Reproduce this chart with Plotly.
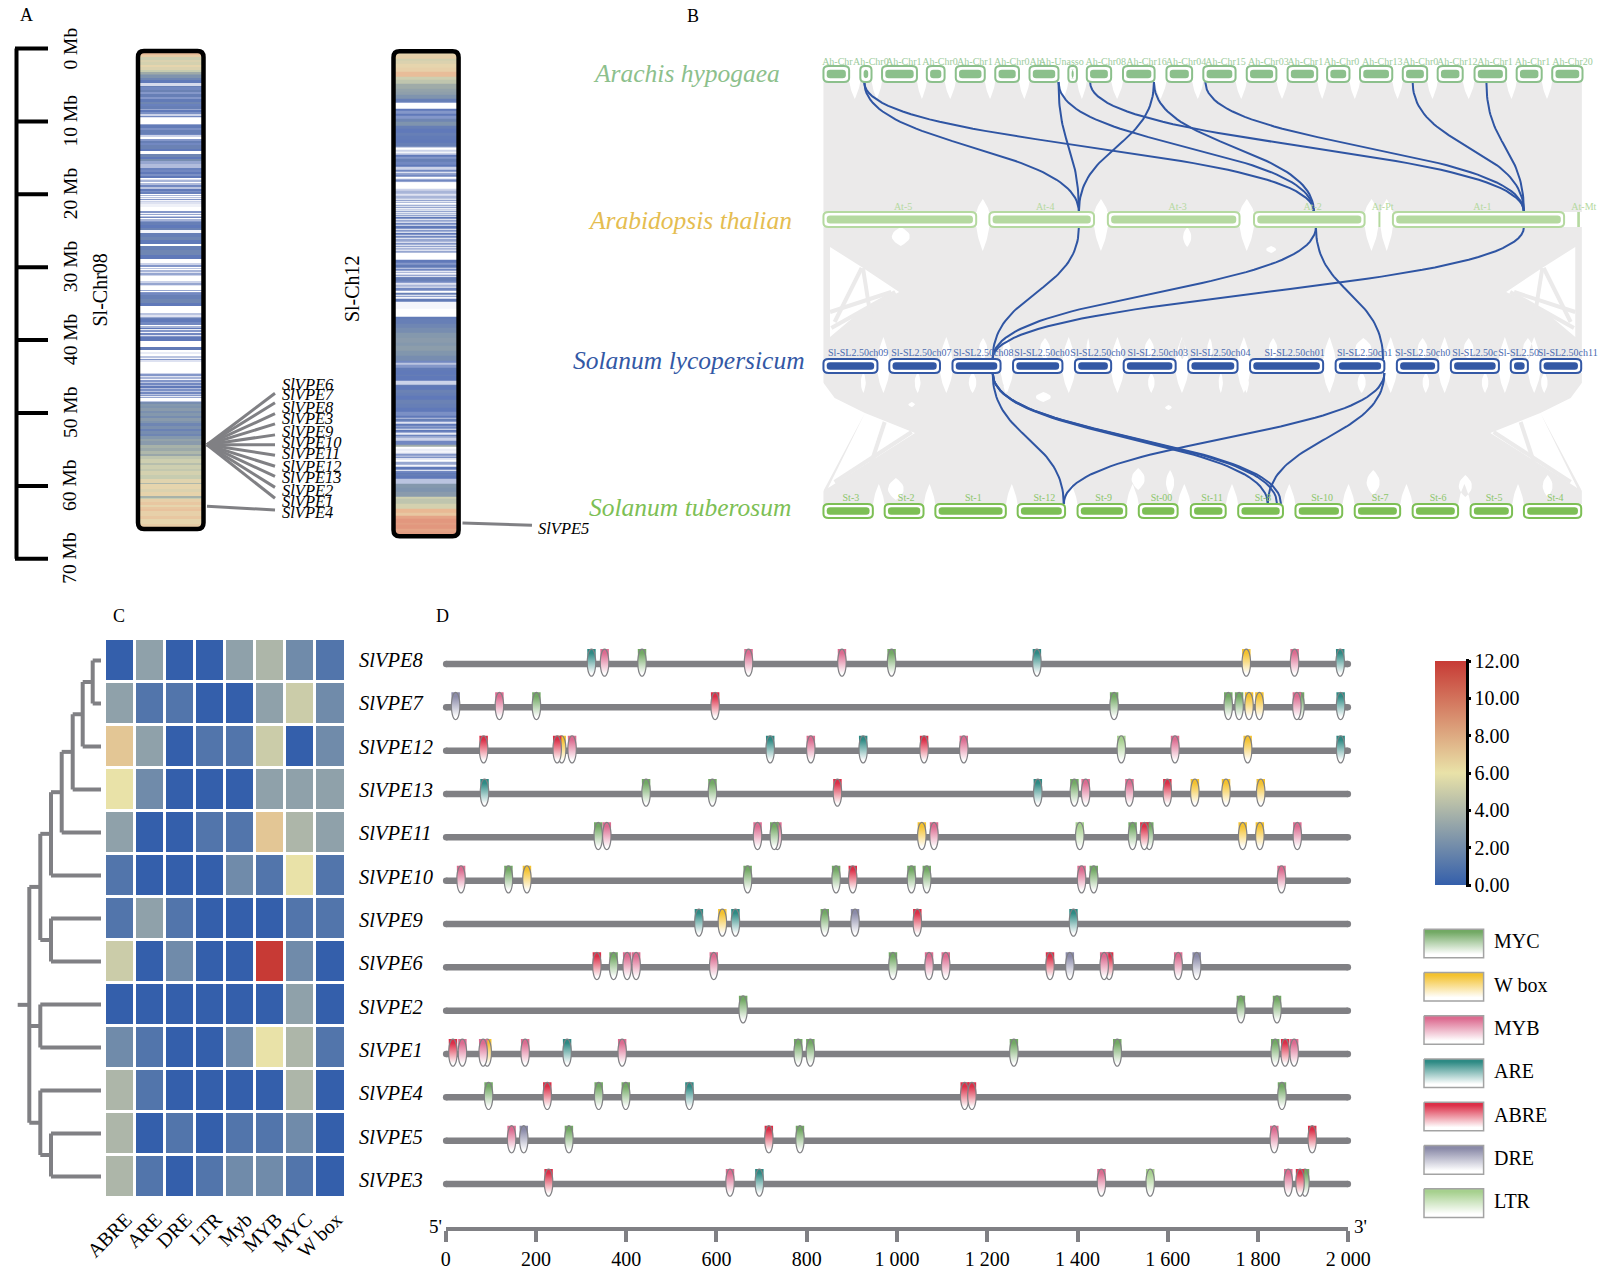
import math
import plotly.graph_objects as go

W, H = 1602, 1279
SERIF = "Liberation Serif, Times New Roman, serif"
GREY = "#808084"
RIBBON = "#ebeaea"
LINK = "#2f55a3"

# ---------- Panel A data ----------
ruler_mb = [0, 10, 20, 30, 40, 50, 60, 70]
chr08_len_mb = 65.2
chr12_len_mb = 66.3
chr08_width = [8,7,8,7,8,7,8,7,5,5,10,6,9,7,5,8,6,6,10,5,8,6,7,8,5,6,5,5,4,4,17,5,8,7,10,5,5,5,6,8,6,10,7,10,8,6,6,10,10,8,6,7,6,6,3,3,6,3,6,4,6,6,4,6,3,4,2,4,2,4,2,4,6,7,14,4,3,5,2,4,4,2,5,2,2,10,8,7,7,12,10,11,3,2,2,12,14,12,12,8,5,4,4,3,4,5,4,3,16,6,5,3,13,4,2,2,1,6,12,12,8,22,6,6,4,3,10,7,5,5,4,3,6,3,5,3,4,10,19,10,6,6,6,5,3,5,4,33,4,5,5,4,4,5,4,6,4,5,4,5,4,5,3,3,2,3,2,8,2,8,7,6,7,7,8,7,8,7,10,7,8,8,7,8,7,10,10,10,8,8,9,10,8,10,8,12,12,12,3,15,8,12,5,5,10,8,5,7,5,5,12,8,15,10]
chr08_level = [3.5,3.2,2.6,2.8,2.7,3.0,2.8,2.5,2.0,1.7,1.4,1.2,1.0,0.35,1.1,0.9,1.15,0.8,1.1,0.8,1.05,1.2,0.95,1.1,0.7,1.0,0.85,0.4,0.9,0.3,0,0.7,1.05,0.85,1.1,0.9,0.4,0,0.8,1.1,0.9,1.15,1.0,0,1.2,1.0,1.3,0.7,0.55,0.95,0.9,1.0,0.85,1.0,0,0.3,0.6,0,0.55,0.9,0.5,1.0,0.85,0.95,0,0.6,0,0.5,0.1,0.8,0.1,0.4,0.3,0.15,0,0.8,0.1,0.7,0,0.5,0.9,0,0.6,0,0.8,1.1,1.0,1.15,0.1,1.1,1.2,1.0,0,0.6,0,1.1,1.2,1.0,0,0.4,0.8,0,0.5,0,0.6,0.3,0.7,0.4,0,0.4,0.7,0.3,0,0.7,0,0.8,0,0.9,1.1,1.2,1.0,0,0.5,0.3,0.7,1.1,1.0,0.9,0,0.6,1.0,0.2,0.8,0.1,0.9,0.3,0.8,1.0,0,1.05,0,0.2,0,0.5,0.1,0.8,0.3,0,0.4,0.8,0.3,0.6,0.1,0.8,0.5,0.9,0.6,1.0,0.55,0.85,0.5,0.9,0.5,0.8,0.2,0.7,0,0,0.5,1.3,1.5,1.4,1.6,1.35,1.5,1.3,1.6,1.4,1.2,1.35,1.15,1.3,1.2,1.5,1.8,1.6,2.1,1.95,2.2,1.9,2.4,2.6,2.3,2.6,2.45,2.7,2.5,2.9,2.2,3.0,2.8,3.05,2.1,2.5,3.1,3.3,3.0,3.3,3.4,3.1,3.1,3.3,3.0,3.2]
chr12_width = [10,10,8,7,12,13,15,10,12,13,10,10,10,10,4,16,8,7,8,7,10,12,10,10,10,12,10,10,4,6,5,4,5,6,6,10,8,7,8,7,4,4,8,4,5,4,4,17,8,7,8,7,4,2,4,2,3,2,3,2,4,2,4,2,4,2,4,2,3,2,3,8,2,6,2,8,2,8,3,7,2,8,3,6,3,8,3,5,3,5,3,6,3,6,20,8,7,10,3,4,4,4,4,4,3,4,8,6,5,6,5,7,6,6,3,5,5,8,20,2,22,8,15,10,15,15,15,10,15,15,15,6,5,10,10,10,5,15,10,5,10,10,8,12,12,12,14,12,4,5,5,4,5,5,4,5,5,4,5,5,4,5,10,12,6,6,4,7,4,4,3,5,5,5,10,5,9,4,6,3,6,10,15,10,12,15,8,15,15,10,10,10,10,8,10,10,10]
chr12_level = [3.0,3.1,2.7,2.8,3.0,3.1,3.5,2.6,2.4,2.0,1.8,1.7,1.4,1.1,0.9,0,1.0,0.8,1.0,0.8,1.2,1.4,1.1,1.0,1.1,1.05,1.0,1.1,0.5,0,0.4,0,0.4,1.0,0.8,1.1,0.9,1.0,0.4,0.9,0.1,0.7,0.9,0,0.6,0.9,0.1,0,0.4,0.6,0.3,0.6,0,0.9,0,0.7,0,0.8,0,0.8,0,0.9,0,0.5,0,0.9,0,0.7,0,0.9,0.1,1.0,0.1,0.7,0.1,0.9,0.2,1.0,0.1,0.8,0,1.0,0.2,0.9,0.1,0.7,0.1,0.8,0,0.9,0.1,0.6,0.1,0.7,0,1.0,0.8,1.05,0.4,0.9,0,0.7,0.1,0.9,0,0.9,1.1,0.9,0.3,0.6,0.2,0.9,0,1.1,0,0.9,0.1,1.05,0.1,0.95,0,1.05,1.1,1.2,1.3,1.5,1.6,1.5,1.65,1.45,1.3,0.9,0.5,0.8,1.05,1.0,1.1,1.0,0.4,1.1,1.0,1.15,1.1,1.0,1.15,1.1,1.0,0.85,1.0,0.5,1.1,0.9,0.3,1.0,0.7,0.9,0.2,1.0,0.8,0.2,1.0,0.7,0.4,0.9,2.0,0,0.2,0.1,0.3,0.8,0.4,1.0,0.3,0,0.7,0.1,1.0,0,0.9,1.0,1.1,1.0,0.5,1.5,1.4,1.6,2.6,2.4,2.7,3.6,3.3,3.9,4.1,4.0,4.1,3.9,4.0]
stripe_scale = [[0,"#ffffff"],[0.07,"#dfe3f2"],[0.12,"#b9c3e0"],[0.24,"#5f78b8"],[0.33,"#7e93ae"],[0.48,"#a0aca8"],[0.6,"#c9cdb0"],[0.71,"#e6d6ae"],[0.86,"#e9b894"],[1,"#e0907a"]]
chr08_genes = ["SlVPE6","SlVPE7","SlVPE8","SlVPE3","SlVPE9","SlVPE10","SlVPE11","SlVPE12","SlVPE13","SlVPE2","SlVPE1","SlVPE4"]
chr08_label_mb = [46.1,47.5,49.2,50.7,52.5,54.0,55.6,57.3,58.9,60.6,62.1,63.7]
chr08_tip_mb = [47.3,48.6,50.1,51.5,53.0,54.35,55.8,57.3,58.7,60.2,61.7]
chr08_gene_mb = [54.35,54.35,54.35,54.35,54.35,54.35,54.35,54.35,54.35,54.35,54.35]
slvpe4_mb = [62.8, 63.3]
slvpe5_mb = [65.1, 65.4]

# ---------- Panel B data ----------
ah_start = [385,441,474,542,586,646,698,757,785,840,906,962,1028,1090,1150,1200,1265,1318,1374,1438,1492]
ah_end = [424,458,527,569,630,682,742,770,822,888,945,1011,1073,1135,1184,1249,1302,1356,1422,1476,1538]
ah_labels = ["Ah-Chr","Ah-Chr0","Ah-Chr1","Ah-Chr0","Ah-Chr1","Ah-Chr0","Ah-","Ah-Unasso","Ah-Chr08","Ah-Chr16","Ah-Chr04","Ah-Chr15","Ah-Chr03","Ah-Chr1","Ah-Chr0","Ah-Chr13","Ah-Chr0","Ah-Chr12","Ah-Chr1","Ah-Chr1","Ah-Chr20"]
ah_label_x = [383,430,480,535,588,644,698,712,783,845,905,965,1030,1090,1145,1203,1265,1317,1378,1435,1492]
at_start = [385,637,817,1039,1228,1250,1530]
at_end = [617,796,1017,1207,1231,1510,1534]
at_labels = ["At-5","At-4","At-3","At-2","At-Pt","At-1","At-Mt"]
at_label_x = [492,708,909,1114,1218,1372,1521]
sl_start = [385,485,581,673,767,841,939,1033,1163,1256,1338,1429,1474]
sl_end = [467,562,654,748,822,920,1014,1144,1237,1319,1411,1455,1536]
sl_labels = ["Sl-SL2.50ch09","Sl-SL2.50ch07","Sl-SL2.50ch08","Sl-SL2.50ch0","Sl-SL2.50ch0","Sl-SL2.50ch03","Sl-SL2.50ch04","Sl-SL2.50ch01","Sl-SL2.50ch1","Sl-SL2.50ch0","Sl-SL2.50c","Sl-SL2.50","Sl-SL2.50ch11"]
sl_label_x = [392,488,582,675,760,847,942,1055,1165,1253,1340,1410,1470]
st_start = [385,478,555,680,771,864,943,1015,1102,1192,1280,1368,1449]
st_end = [460,537,662,752,845,923,996,1083,1173,1261,1349,1431,1536]
st_labels = ["St-3","St-2","St-1","St-12","St-9","St-00","St-11","St-8","St-10","St-7","St-6","St-5","St-4"]
st_label_x = [414,498,600,704,798,882,959,1040,1126,1218,1306,1391,1484]
link_top_x = [447,447,742,742,790,887,887,965,1280,1392, 773,1133,1449,1133, 642,642,642,642,1237,1237]
link_bottom_x = [773,1130,773,1130,1449,773,1130,1449,1449,1449, 642,642,642,1235, 750,1060,1080,1074,750,1060]
link_top_y = [82]*10 + [227]*4 + [373]*6
link_bottom_y = [212]*10 + [359]*4 + [504]*6
blob_x0 = [615,706,782,866,921,964,1055,1180,1280,1350,1440, 438,519,600,655,873,982,1020,1190,1290,1380,1470, 696,509,899, 843,899,471,1200,1340,1470, 475,925,1050]
blob_x1 = [640,737,792,894,939,980,1081,1230,1310,1380,1470, 453,537,623,668,893,995,1035,1215,1310,1400,1490, 742,529,919, 883,924,519,1240,1380,1500, 530,950,1080]
blob_y0 = [338]*11 + [372]*11 + [392,402,405] + [468,470,478,470,475,475] + [227,227,246]
blob_y1 = [360]*11 + [393]*11 + [402,407,410] + [490,495,500,495,497,497] + [246,247,253]
streak_x0 = [443,445,397,395,478,402, 1479,1477,1525,1527,1444,1520]
streak_x1 = [402,458,494,488,453,519, 1520,1464,1428,1434,1469,1403]
streak_y0 = [268,268,328,312,422,482, 268,268,328,312,422,482]
streak_y1 = [322,322,292,292,472,432, 322,322,292,292,472,432]

# ---------- Panel C data ----------
genes = ["SlVPE8","SlVPE7","SlVPE12","SlVPE13","SlVPE11","SlVPE10","SlVPE9","SlVPE6","SlVPE2","SlVPE1","SlVPE4","SlVPE5","SlVPE3"]
cis_elements = ["ABRE","ARE","DRE","LTR","Myb","MYB","MYC","W box"]
row_slvpe8 = [0,3,0,0,3,4,2,1]
row_slvpe7 = [3,1,1,0,0,3,5,2]
row_slvpe12 = [7,3,0,1,1,5,0,2]
row_slvpe13 = [6,2,0,0,0,3,3,3]
row_slvpe11 = [3,0,0,1,1,7,4,3]
row_slvpe10 = [1,0,0,0,2,1,6,1]
row_slvpe9 = [1,3,1,0,0,0,1,1]
row_slvpe6 = [5,0,2,0,0,12,2,0]
row_slvpe2 = [0,0,0,0,0,0,3,0]
row_slvpe1 = [2,1,0,0,2,6,4,1]
row_slvpe4 = [4,1,0,0,0,0,4,0]
row_slvpe5 = [4,0,1,0,1,1,2,0]
row_slvpe3 = [4,1,0,1,2,2,1,0]
heat_z = [row_slvpe8,row_slvpe7,row_slvpe12,row_slvpe13,row_slvpe11,row_slvpe10,row_slvpe9,row_slvpe6,row_slvpe2,row_slvpe1,row_slvpe4,row_slvpe5,row_slvpe3]
heat_scale = [[0,"#345fab"],[0.5,"#e9e2a8"],[1,"#c73a35"]]
t_87 = (8.3, 0, 1)
t_12 = (18.3, t_87, 2)
t_13 = (28.3, t_12, 3)
t_11 = (39.3, t_13, 4)
t_10 = (50, t_11, 5)
t_96 = (50, 6, 7)
t_up = (60.7, t_10, t_96)
t_21 = (60.7, 8, 9)
t_53 = (50, 11, 12)
t_low = (60.7, 10, t_53)
t_root = (71.7, t_up, t_21, t_low)
root_stub = 83.3

# ---------- Panel D data ----------
vpe8_bp = [323,352,435,671,878,988,1310,1774,1881,1982]
vpe8_tf = ["ARE","MYB","MYC","MYB","MYB","MYC","ARE","W box","MYB","ARE"]
vpe7_bp = [22,119,201,597,1481,1734,1758,1780,1803,1893,1886,1983]
vpe7_tf = ["DRE","MYB","MYC","ABRE","MYC","MYC","MYC","W box","W box","MYC","MYB","ARE"]
vpe12_bp = [84,257,247,280,719,809,925,1060,1148,1497,1616,1777,1983]
vpe12_tf = ["ABRE","W box","ABRE","MYB","ARE","MYB","ARE","ABRE","MYB","LTR","MYB","W box","ARE"]
vpe13_bp = [86,444,591,868,1312,1393,1418,1515,1599,1660,1729,1806]
vpe13_tf = ["ARE","MYC","MYC","ABRE","ARE","MYC","MYB","MYB","ABRE","W box","W box","W box"]
vpe11_bp = [338,357,691,735,728,1055,1082,1405,1522,1559,1548,1766,1804,1887]
vpe11_tf = ["MYC","MYB","MYB","MYB","MYC","W box","MYB","LTR","MYC","MYC","ABRE","W box","W box","MYB"]
vpe10_bp = [34,139,180,669,865,902,1032,1066,1409,1436,1852]
vpe10_tf = ["MYB","MYC","W box","MYC","MYC","ABRE","MYC","MYC","MYB","MYC","MYB"]
vpe9_bp = [561,613,642,840,907,1045,1391]
vpe9_tf = ["ARE","W box","ARE","MYC","DRE","ABRE","ARE"]
vpe6_bp = [335,372,402,422,594,991,1071,1108,1339,1383,1470,1459,1623,1664]
vpe6_tf = ["ABRE","MYC","MYB","MYB","MYB","MYC","MYB","MYB","ABRE","DRE","ABRE","MYB","MYB","DRE"]
vpe2_bp = [659,1762,1842]
vpe2_tf = ["MYC","MYC","MYC"]
vpe1_bp = [16,37,92,83,176,269,391,781,808,1259,1488,1838,1860,1880]
vpe1_tf = ["ABRE","MYB","W box","MYB","MYB","ARE","MYB","MYC","MYC","MYC","MYC","MYC","ABRE","MYB"]
vpe4_bp = [95,225,339,399,540,1150,1166,1853]
vpe4_tf = ["MYC","ABRE","MYC","MYC","ARE","ABRE","ABRE","MYC"]
vpe5_bp = [146,173,273,716,785,1836,1920]
vpe5_tf = ["MYB","DRE","MYC","ABRE","MYC","MYB","ABRE"]
vpe3_bp = [228,630,695,1453,1561,1867,1904,1893]
vpe3_tf = ["ABRE","MYB","ARE","MYB","LTR","MYB","MYC","ABRE"]
motif_rows = [(vpe8_bp,vpe8_tf),(vpe7_bp,vpe7_tf),(vpe12_bp,vpe12_tf),(vpe13_bp,vpe13_tf),(vpe11_bp,vpe11_tf),(vpe10_bp,vpe10_tf),(vpe9_bp,vpe9_tf),(vpe6_bp,vpe6_tf),(vpe2_bp,vpe2_tf),(vpe1_bp,vpe1_tf),(vpe4_bp,vpe4_tf),(vpe5_bp,vpe5_tf),(vpe3_bp,vpe3_tf)]
legend_names = ["MYC","W box","MYB","ARE","ABRE","DRE","LTR"]
legend_colors = ["#72a964","#f4c22f","#dc6b90","#2e8a84","#dc2f48","#8a8aa8","#a6d08e"]
tf_color = dict(zip(legend_names, legend_colors))
bp_ticks = [0,200,400,600,800,1000,1200,1400,1600,1800,2000]
bp_tick_text = ["0","200","400","600","800","1 000","1 200","1 400","1 600","1 800","2 000"]

fig = go.Figure()
shapes, annots = [], []

def dx(a, b): return [a / W, b / W]
def dy(top, bottom): return [1 - bottom / H, 1 - top / H]

def rrect(x0, x1, y0, y1, rx, ry):
    return (f"M{x0+rx},{y0} L{x1-rx},{y0} Q{x1},{y0} {x1},{y0+ry} L{x1},{y1-ry} Q{x1},{y1} {x1-rx},{y1} "
            f"L{x0+rx},{y1} Q{x0},{y1} {x0},{y1-ry} L{x0},{y0+ry} Q{x0},{y0} {x0+rx},{y0} Z")

def note(text, x, y, xref="paper", yref="paper", size=20, color="black", angle=0, xanchor="center", yshift=0, italic=False):
    t = f"<i>{text}</i>" if italic else text
    annots.append(dict(text=t, x=x, y=y, xref=xref, yref=yref, showarrow=False, xanchor=xanchor, yanchor="middle",
                       textangle=angle, yshift=yshift, font=dict(family=SERIF, size=size, color=color)))

def pnote(text, px, py, **kw):
    note(text, px / W, 1 - py / H, **kw)

# ---------- Panel A ----------
rx, ry = [], []
rx += [16.5, 16.5, None]; ry += [ruler_mb[0], ruler_mb[-1], None]
for m in ruler_mb:
    rx += [15, 48, None]; ry += [m, m, None]
    note(f"{m} Mb", 70, m, "x", "y", size=19.5, angle=-90)
fig.add_trace(go.Scatter(x=rx, y=ry, mode="lines", line=dict(color="black", width=4), xaxis="x", yaxis="y", hoverinfo="skip"))

def band_edges(widths, length, start):
    total = sum(widths)
    e = [start]
    for w in widths:
        e.append(e[-1] + w / total * length)
    return e

fig.add_trace(go.Heatmap(x=[139.5, 202], y=band_edges(chr08_width, chr08_len_mb, 0.48), z=[[v] for v in chr08_level],
                         zmin=0, zmax=4.2, colorscale=stripe_scale, showscale=False, xaxis="x", yaxis="y", hoverinfo="skip"))
fig.add_trace(go.Heatmap(x=[395, 457], y=band_edges(chr12_width, chr12_len_mb, 0.44), z=[[v] for v in chr12_level],
                         zmin=0, zmax=4.2, colorscale=stripe_scale, showscale=False, xaxis="x", yaxis="y", hoverinfo="skip"))
shapes.append(dict(type="path", path=rrect(138, 203.5, 0.35, 65.9, 6, 0.85), xref="x", yref="y", line=dict(color="black", width=4.5)))
shapes.append(dict(type="path", path=rrect(393.5, 458.6, 0.38, 66.9, 6, 0.85), xref="x", yref="y", line=dict(color="black", width=4.5)))
lx, ly = [], []
for tip, g in zip(chr08_tip_mb, chr08_gene_mb):
    lx += [207, 275, None]; ly += [g, tip, None]
lx += [207, 275, None]; ly += [slvpe4_mb[0], slvpe4_mb[1], None]
lx += [462.5, 532, None]; ly += [slvpe5_mb[0], slvpe5_mb[1], None]
fig.add_trace(go.Scatter(x=lx, y=ly, mode="lines", line=dict(color=GREY, width=3), xaxis="x", yaxis="y", hoverinfo="skip"))
for g, m in zip(chr08_genes, chr08_label_mb):
    note(g, 280, m, "x", "y", size=16.5, xanchor="left", italic=True)
note("SlVPE5", 535.5, 65.8, "x", "y", size=16.5, xanchor="left", italic=True)
note("Sl-Chr08", 100, 33.2, "x", "y", size=20, angle=-90)
note("Sl-Ch12", 352, 33.0, "x", "y", size=20, angle=-90)

# ---------- Panel B ----------
bx = [385, 1537, 1537, 385, 385, None] * 3
by = [82,82,212,212,82,None, 227,227,359,359,227,None, 373,373,504,504,373,None]
fig.add_trace(go.Scatter(x=bx, y=by, mode="lines", fill="toself", fillcolor=RIBBON, line=dict(width=0), xaxis="x2", yaxis="y2", hoverinfo="skip"))

def quad(p0, c, p1, n=10):
    return [((1-t)**2*p0[0]+2*t*(1-t)*c[0]+t*t*p1[0], (1-t)**2*p0[1]+2*t*(1-t)*c[1]+t*t*p1[1]) for t in [i/n for i in range(n+1)]]

wx, wy = [], []
def add_poly(pts):
    global wx, wy
    wx += [p[0] for p in pts] + [pts[0][0], None]
    wy += [p[1] for p in pts] + [pts[0][1], None]

def wedge(xa, xb, ybase, ytip):
    mid = (xa + xb) / 2
    ym = (ybase + ytip) / 2
    add_poly(quad((xa, ybase), (xa + (xb-xa)*0.1, ym), (mid, ytip)) + quad((mid, ytip), (xb - (xb-xa)*0.1, ym), (xb, ybase)))

def gap_wedges(starts, ends, ybase, ytip):
    for e, s in zip(ends[:-1], starts[1:]):
        wedge(e, s, ybase, ytip)

gap_wedges(ah_start, ah_end, 81, 99)
gap_wedges(at_start[:6], at_end[:6], 213, 199)
gap_wedges(at_start[:6], at_end[:6], 226, 251)
gap_wedges(sl_start, sl_end, 360, 337)
gap_wedges(sl_start, sl_end, 372, 393)
gap_wedges(st_start, st_end, 505, 484)
for a, b, t, u in zip(blob_x0, blob_x1, blob_y0, blob_y1):
    mid = (a + b) / 2; ym = (t + u) / 2
    add_poly(quad((mid, t), (a, ym), (mid, u)) + quad((mid, u), (b, ym), (mid, t)))
side_x = [395,443,500,440,395]
side_y = [247,267,292,312,337]
add_poly(list(zip(side_x, side_y)))
add_poly([(1922 - a, b) for a, b in zip(side_x, side_y)])
neck_x = [384,402,448,392,384]
neck_y = [382,398,413,482,492]
tri_x = [392,448,524]
tri_y = [488,413,433]
add_poly(list(zip(neck_x, neck_y)))
add_poly([(1922 - a, b) for a, b in zip(neck_x, neck_y)])
add_poly(list(zip(tri_x, tri_y)))
add_poly([(1922 - a, b) for a, b in zip(tri_x, tri_y)])
fig.add_trace(go.Scatter(x=wx, y=wy, mode="lines", fill="toself", fillcolor="white", line=dict(width=0), xaxis="x2", yaxis="y2", hoverinfo="skip"))
sx, sy = [], []
for a, b, c, d in zip(streak_x0, streak_x1, streak_y0, streak_y1):
    sx += [a, b, None]; sy += [c, d, None]
fig.add_trace(go.Scatter(x=sx, y=sy, mode="lines", line=dict(color=RIBBON, width=4), xaxis="x2", yaxis="y2", hoverinfo="skip"))

def bez(x0, y0, x1, y1, n=50):
    ym = (y0 + y1) / 2
    xs, ys = [], []
    for i in range(n + 1):
        t = i / n
        xs.append((1-t)**3*x0 + 3*t*(1-t)**2*x0 + 3*t*t*(1-t)*x1 + t**3*x1)
        ys.append((1-t)**3*y0 + 3*t*(1-t)**2*ym + 3*t*t*(1-t)*ym + t**3*y1)
    return xs, ys
kx, ky = [], []
for a, b, c, d in zip(link_top_x, link_bottom_x, link_top_y, link_bottom_y):
    xs, ys = bez(a, c, b, d)
    kx += xs + [None]; ky += ys + [None]
fig.add_trace(go.Scatter(x=kx, y=ky, mode="lines", line=dict(color=LINK, width=2), xaxis="x2", yaxis="y2", hoverinfo="skip"))

def track(starts, ends, labels, label_x, ytop, ybot, ylab, color, labcolor):
    for a, b in zip(starts, ends):
        wd = b - a
        if wd < 8:
            shapes.append(dict(type="path", path=f"M{a},{ytop} L{b},{ytop} L{b},{ybot} L{a},{ybot} Z", xref="x2", yref="y2",
                               fillcolor=color, line=dict(width=0)))
            continue
        r = min(8, wd/2.5)
        shapes.append(dict(type="path", path=rrect(a, b, ytop, ybot, r, 4), xref="x2", yref="y2", fillcolor="white", line=dict(color=color, width=2)))
        mt = (ybot - ytop) * 0.24
        shapes.append(dict(type="path", path=rrect(a+5, b-5, ytop+mt, ybot-mt, min(5, wd/3), 3), xref="x2", yref="y2", fillcolor=color, line=dict(width=0)))
    fig.add_trace(go.Scatter(x=label_x, y=[ylab]*len(labels), text=labels, mode="text", textposition="middle right",
                             textfont=dict(family=SERIF, size=10, color=labcolor), xaxis="x2", yaxis="y2", hoverinfo="skip", cliponaxis=False))

track(ah_start, ah_end, ah_labels, ah_label_x, 66, 82, 62, "#8cc08c", "#9bcb9b")
track(at_start, at_end, at_labels, at_label_x, 212, 227, 207.5, "#b5d9a0", "#b5d9a0")
track(sl_start, sl_end, sl_labels, sl_label_x, 359, 373, 353, "#3358a5", "#4a6ab0")
track(st_start, st_end, st_labels, st_label_x, 504, 518, 498, "#7dbf55", "#8cc66a")

pnote("Arachis hypogaea", 686, 73, size=25.5, color="#8cc08c", italic=True)
pnote("Arabidopsis thalian", 689.5, 220, size=25.5, color="#e5bd50", italic=True)
pnote("Solanum lycopersicum", 689, 360, size=25.5, color="#3358a5", italic=True)
pnote("Solanum tuberosum", 689.5, 507.5, size=25.5, color="#7dbf55", italic=True)

# ---------- Panel C ----------
fig.add_trace(go.Heatmap(x=cis_elements, y=list(range(13)), z=heat_z, zmin=0, zmax=12, colorscale=heat_scale, xgap=3, ygap=3,
                         xaxis="x3", yaxis="y3", hoverinfo="skip",
                         colorbar=dict(x=1435/W, xanchor="left", y=1-885/H, yanchor="bottom", lenmode="pixels", len=224,
                                       thicknessmode="pixels", thickness=31, xpad=0, ypad=0, outlinewidth=0,
                                       tickvals=[0,2,4,6,8,10,12], tickformat=".2f", tickprefix="\u00a0", ticks="outside", ticklen=5, tickwidth=3,
                                       tickcolor="black", tickfont=dict(family=SERIF, size=20, color="black"))))
shapes.append(dict(type="line", xref="paper", yref="paper", x0=1467.5/W, x1=1467.5/W, y0=1-886/H, y1=1-659/H, line=dict(color="black", width=3)))

dn_x, dn_y = [], []
def walk(node):
    if isinstance(node, int):
        return 0, float(node)
    h, *kids = node
    pts = [walk(k) for k in kids]
    ys = [p[1] for p in pts]
    for (ch, cy) in pts:
        dn_x.extend([ch, h, None]); dn_y.extend([cy, cy, None])
    dn_x.extend([h, h, None]); dn_y.extend([min(ys), max(ys), None])
    return h, (min(ys) + max(ys)) / 2
rh, ry0 = walk(t_root)
dn_x += [rh, root_stub, None]; dn_y += [ry0, ry0, None]
fig.add_trace(go.Scatter(x=dn_x, y=dn_y, mode="lines", line=dict(color=GREY, width=4), xaxis="x4", yaxis="y3", hoverinfo="skip"))

# ---------- Panel D ----------
fig.add_trace(go.Scatter(x=[bp_ticks[0], bp_ticks[-1]], y=[12, 12], mode="lines", line=dict(color="rgba(0,0,0,0)", width=0),
                         xaxis="x5", yaxis="y5", hoverinfo="skip"))
for r in range(13):
    fig.add_trace(go.Scatter(x=[1, 1999], y=[r, r], mode="lines+markers", marker=dict(size=6.5, color=GREY), line=dict(color=GREY, width=6.5),
                             xaxis="x7", yaxis="y5", hoverinfo="skip"))
    pnote(genes[r], 356.5, 664 + 43.33*r, size=20.5, xanchor="left", italic=True, yshift=4)

HW, TOP, BOT = 9.4, -0.346, 0.284
CY, B = (TOP + BOT)/2, (BOT - TOP)/2
ANG = [i * math.pi / 14 for i in range(15)]
for r, (bps, tfs) in enumerate(motif_rows):
    for bp, tf in zip(bps, tfs):
        px = [bp - HW] + [bp - HW*math.cos(a) for a in ANG] + [bp + HW]
        py = [r + TOP] + [r + CY + B*math.sin(a) for a in ANG] + [r + TOP]
        fig.add_trace(go.Scatter(x=px + [px[0]], y=py + [py[0]], mode="lines", line=dict(width=0), fill="toself",
                                 fillgradient=dict(type="vertical", colorscale=[[0, tf_color[tf]], [0.15, tf_color[tf]], [0.9, "#ffffff"], [1, "#ffffff"]], start=r+TOP, stop=r+BOT),
                                 xaxis="x7", yaxis="y5", hoverinfo="skip"))
        ex = [bp + HW*math.cos(2*a) for a in ANG]
        ey = [r + CY + B*math.sin(2*a) for a in ANG]
        fig.add_trace(go.Scatter(x=ex, y=ey, mode="lines", line=dict(color=GREY, width=1.2, shape="spline"),
                                 xaxis="x7", yaxis="y5", hoverinfo="skip"))

pnote("5'", 435, 1226, size=19)
pnote("3'", 1360, 1226, size=19)
for t, a, b in [("A", 26, 15), ("B", 692.5, 16), ("C", 118.5, 616), ("D", 442, 616)]:
    pnote(t, a, b, size=18)

# ---------- Legend ----------
for i, (name, col) in enumerate(zip(legend_names, legend_colors)):
    fig.add_trace(go.Scatter(x=[4, 63.6, 63.6, 4, 4], y=[i-0.33, i-0.33, i+0.33, i+0.33, i-0.33], mode="lines",
                             line=dict(color="#a3a3a3", width=1.5), fill="toself",
                             fillgradient=dict(type="vertical", colorscale=[[0, col], [0.1, col], [0.88, "#ffffff"], [1, "#ffffff"]], start=i-0.33, stop=i+0.33),
                             xaxis="x6", yaxis="y6", hoverinfo="skip"))
fig.add_trace(go.Scatter(x=[74]*7, y=list(range(7)), text=legend_names, mode="text", textposition="middle right",
                         textfont=dict(family=SERIF, size=20, color="black"), xaxis="x6", yaxis="y6", hoverinfo="skip", cliponaxis=False))

hidden = dict(visible=False, showgrid=False, zeroline=False)
fig.update_layout(
    width=W, height=H, margin=dict(l=0, r=0, t=0, b=0, pad=0, autoexpand=False), paper_bgcolor="white", plot_bgcolor="rgba(0,0,0,0)",
    showlegend=False, shapes=shapes, annotations=annots, font=dict(family=SERIF, color="black"),
    xaxis=dict(domain=dx(0, 600), range=[0, 600], anchor="y", **hidden),
    yaxis=dict(domain=dy(0, 600), range=[(600-48.5)/7.29, -48.5/7.29], anchor="x", **hidden),
    xaxis2=dict(domain=dx(570, 1602), range=[0, 1567.6], anchor="y2", **hidden),
    yaxis2=dict(domain=dy(0, 560), range=[560, 0], anchor="x2", **hidden),
    xaxis3=dict(domain=dx(105, 345.5), anchor="y3", showgrid=False, zeroline=False, showline=False, ticks="", tickangle=-45,
                ticklabelshift=6, ticklabelstandoff=5, tickfont=dict(family=SERIF, size=20, color="black"), categoryorder="array", categoryarray=cis_elements),
    yaxis3=dict(domain=dy(639, 1198), range=[12.5, -0.5], anchor="x3", **hidden),
    xaxis4=dict(domain=dx(0, 101), range=[101, 0], anchor="y3", **hidden),
    xaxis5=dict(domain=dx(445.7, 1348.3), range=[0, 2000], anchor="y5", showgrid=False, zeroline=False, showline=True, linecolor=GREY, linewidth=4,
                ticks="outside", ticklen=11, tickwidth=4, tickcolor=GREY, tickvals=bp_ticks, ticktext=bp_tick_text,
                tickfont=dict(family=SERIF, size=20, color="black")),
    yaxis5=dict(domain=dy(640, 1227), range=[(1227-664)/43.33, (640-664)/43.33], anchor="x5", **hidden),
    xaxis6=dict(domain=dx(1420, 1600), range=[0, 180], anchor="y6", **hidden),
    yaxis6=dict(domain=dy(921.8, 1224.8), range=[6.5, -0.5], anchor="x6", **hidden),
    xaxis7=dict(domain=dx(430, 1360), range=[(430-445.7)/0.4513, (1360-445.7)/0.4513], anchor="y5", **hidden),
)
fig.write_html("out.html", config={"displayModeBar": False}, post_script="document.body.style.margin='0';")
